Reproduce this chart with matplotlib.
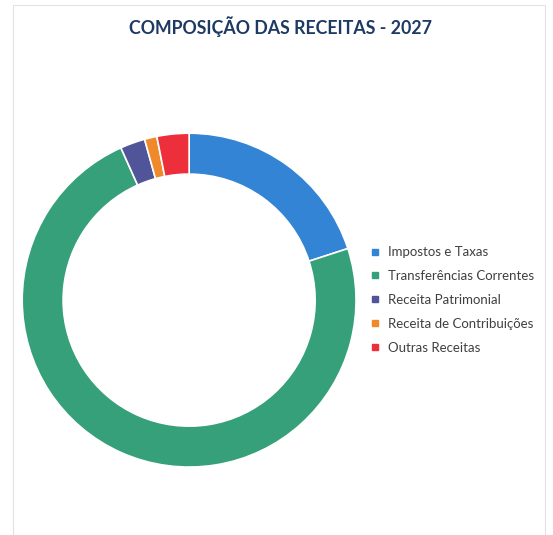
import matplotlib.pyplot as plt
from matplotlib.lines import Line2D
from matplotlib.patches import Rectangle

# Revenue composition 2027 (share, %)
categorias = ['Impostos e Taxas', 'Transferências Correntes', 'Receita Patrimonial',
              'Receita de Contribuições', 'Outras Receitas']
valores = [20.0, 73.3, 2.4, 1.2, 3.1]
cores = ['#3384d4', '#35a07a', '#4f5598', '#f0892c', '#ec2f3b']

fig = plt.figure(figsize=(5.53, 5.35), dpi=100)
fig.patch.set_facecolor('white')

# light chart frame like the spreadsheet chart area
fig.add_artist(Rectangle((0.024, -0.01), 0.962, 1.0, transform=fig.transFigure,
                         fill=False, edgecolor='#e2e2e2', linewidth=0.8))

ax = fig.add_axes([0.040, 0.127, 0.604, 0.624])
wedges, _ = ax.pie(valores, colors=cores, startangle=90, counterclock=False,
                   radius=1.0, wedgeprops=dict(width=0.245, edgecolor='white', linewidth=1.2))
ax.set_xlim(-1.0, 1.0)
ax.set_ylim(-1.0, 1.0)
ax.set_aspect('equal')
ax.axis('off')

fig.text(0.507, 0.95, 'COMPOSIÇÃO DAS RECEITAS - 2027', ha='center', va='center',
         fontsize=12.8, fontweight='bold', color='#1d3a62', family=['Lato', 'DejaVu Sans'])

handles = [Line2D([], [], marker='s', linestyle='none', markersize=5,
                  markerfacecolor=c, markeredgecolor=c) for c in cores]
leg = fig.legend(handles, categorias, loc='upper left', bbox_to_anchor=(0.647, 0.562),
                 frameon=False, handlelength=0.8, handletextpad=0.6, labelspacing=0.9,
                 prop={'family': ['Lato', 'DejaVu Sans'], 'size': 9.5})
for t in leg.get_texts():
    t.set_color('#404040')

fig.savefig('out.png', dpi=100, facecolor='white')
